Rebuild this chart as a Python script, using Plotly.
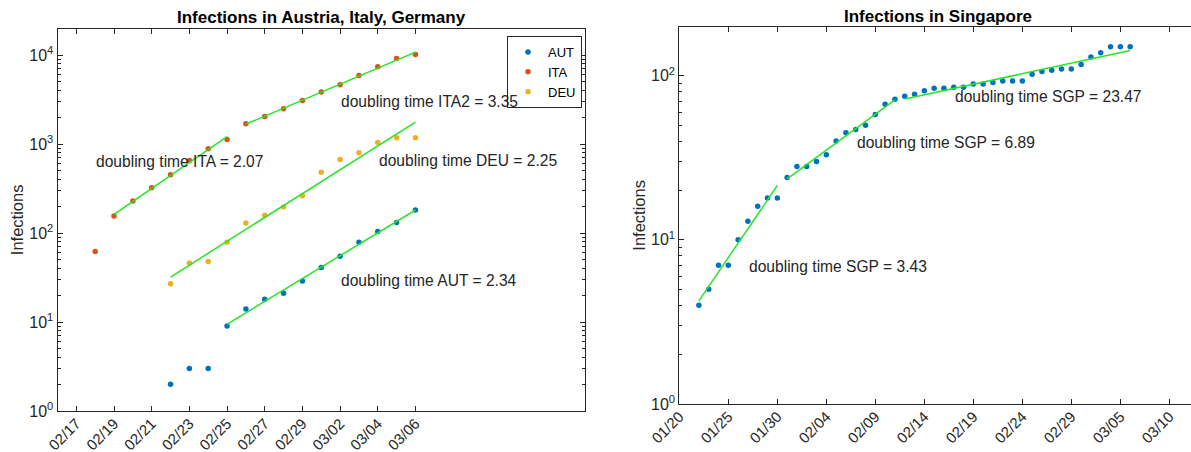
import numpy as np
import pandas as pd
import plotly.graph_objects as go

# ---------------- data (cumulative infections) ----------------
ITA_START = "2020-02-18"
ITA_VALUES = [62, 155, 229, 322, 453, 655, 888, 1128, 1694, 2036, 2502, 3089,
              3858, 4636, 5883, 7375, 9172, 10149]
AUT_START = "2020-02-22"
AUT_VALUES = [2, 3, 3, 9, 14, 18, 21, 29, 41, 55, 79, 104, 131, 182]
DEU_START = "2020-02-22"
DEU_VALUES = [27, 46, 48, 79, 130, 159, 196, 262, 482, 670, 799, 1040, 1176, 1176]
SGP_START = "2020-01-22"
SGP_VALUES = [4, 5, 7, 7, 10, 13, 16, 18, 18,
              24, 28, 28, 30, 33, 40, 45, 47, 50, 58, 67, 72,
              75, 77, 81, 84, 84, 85, 85, 89, 89, 91, 93, 93, 93, 102, 106, 108,
              110, 110, 117, 130, 138, 150, 150, 150]

# fit windows and the doubling times printed on the chart
ITA_FITS = [("2020-02-19", "2020-02-25"), ("2020-02-26", "2020-03-06")]
ITA_DOUBLING = [2.07, 3.35]
DEU_FITS = [("2020-02-22", "2020-03-06")]
DEU_DOUBLING = [2.25]
AUT_FITS = [("2020-02-25", "2020-03-06")]
AUT_DOUBLING = [2.34]
SGP_FITS = [("2020-01-22", "2020-01-30"), ("2020-01-31", "2020-02-11"),
            ("2020-02-12", "2020-03-06")]
SGP_DOUBLING = [3.43, 6.89, 23.47]

# tick labels
LEFT_XTICKVALS = ["2020-02-17", "2020-02-19", "2020-02-21", "2020-02-23", "2020-02-25",
                  "2020-02-27", "2020-02-29", "2020-03-02", "2020-03-04", "2020-03-06"]
LEFT_XTICKTEXT = ["02/17", "02/19", "02/21", "02/23", "02/25",
                  "02/27", "02/29", "03/02", "03/04", "03/06"]
RIGHT_XTICKVALS = ["2020-01-20", "2020-01-25", "2020-01-30", "2020-02-04", "2020-02-09",
                   "2020-02-14", "2020-02-19", "2020-02-24", "2020-02-29", "2020-03-05",
                   "2020-03-10"]
RIGHT_XTICKTEXT = ["01/20", "01/25", "01/30", "02/04", "02/09", "02/14", "02/19",
                   "02/24", "02/29", "03/05", "03/10"]
LEFT_YTICKVALS = [1, 10, 100, 1000, 10000]
LEFT_YTICKTEXT = ["10<sup>0</sup>", "10<sup>1</sup>", "10<sup>2</sup>",
                  "10<sup>3</sup>", "10<sup>4</sup>"]
RIGHT_YTICKVALS = [1, 10, 100]
RIGHT_YTICKTEXT = ["10<sup>0</sup>", "10<sup>1</sup>", "10<sup>2</sup>"]

C_AUT, C_ITA, C_DEU, C_SGP = "#0072BD", "#D95319", "#EDB120", "#0072BD"
C_FIT = "rgb(40,228,40)"
AX = "#262626"
FONT = "Liberation Sans, Arial, Helvetica, sans-serif"


def series(start, values):
    idx = pd.date_range(start, periods=len(values), freq="D")
    return pd.Series(values, index=idx, dtype=float)


def fit(s, a, b):
    seg = s[a:b]
    t = (seg.index - seg.index[0]).days.values.astype(float)
    p = np.polyfit(t, np.log10(seg.values), 1)
    return seg.index, 10 ** np.polyval(p, t)


fig = go.Figure()

ita, aut, deu, sgp = (series(ITA_START, ITA_VALUES), series(AUT_START, AUT_VALUES),
                      series(DEU_START, DEU_VALUES), series(SGP_START, SGP_VALUES))

mk = dict(size=5.5)
fig.add_trace(go.Scatter(x=aut.index, y=aut.values, mode="markers", name="AUT",
                         marker=dict(color=C_AUT, **mk), xaxis="x", yaxis="y"))
fig.add_trace(go.Scatter(x=ita.index, y=ita.values, mode="markers", name="ITA",
                         marker=dict(color=C_ITA, **mk), xaxis="x", yaxis="y"))
fig.add_trace(go.Scatter(x=deu.index, y=deu.values, mode="markers", name="DEU",
                         marker=dict(color=C_DEU, **mk), xaxis="x", yaxis="y"))
fig.add_trace(go.Scatter(x=sgp.index, y=sgp.values, mode="markers", name="SGP",
                         marker=dict(color=C_SGP, **mk), xaxis="x2", yaxis="y2",
                         showlegend=False))

for s, fits, xa, ya in [(ita, ITA_FITS, "x", "y"), (deu, DEU_FITS, "x", "y"),
                        (aut, AUT_FITS, "x", "y"), (sgp, SGP_FITS, "x2", "y2")]:
    for a, b in fits:
        fx, fy = fit(s, a, b)
        fig.add_trace(go.Scatter(x=fx, y=fy, mode="lines", line=dict(color=C_FIT, width=1.5),
                                 showlegend=False, hoverinfo="skip", xaxis=xa, yaxis=ya))

# doubling-time labels (date, value) -> placed left-aligned
labels = [
    (f"doubling time ITA = {ITA_DOUBLING[0]:.2f}", "2020-02-18", 630, "x", "y"),
    (f"doubling time ITA2 = {ITA_DOUBLING[1]:.2f}", "2020-03-02", 3040, "x", "y"),
    (f"doubling time DEU = {DEU_DOUBLING[0]:.2f}", "2020-03-04", 660, "x", "y"),
    (f"doubling time AUT = {AUT_DOUBLING[0]:.2f}", "2020-03-02", 29, "x", "y"),
    (f"doubling time SGP = {SGP_DOUBLING[0]:.2f}", "2020-01-27", 6.9, "x2", "y2"),
    (f"doubling time SGP = {SGP_DOUBLING[1]:.2f}", "2020-02-07", 39, "x2", "y2"),
    (f"doubling time SGP = {SGP_DOUBLING[2]:.2f}", "2020-02-17", 75, "x2", "y2"),
]
annotations = []
for txt, d, v, xa, ya in labels:
    annotations.append(dict(text=txt, x=d, y=np.log10(v), xref=xa, yref=ya,
                            xanchor="left", yanchor="middle", showarrow=False,
                            borderpad=0, font=dict(size=15.6, color=AX, family=FONT)))

W, H = 1191, 452
L_L, L_R, L_T, L_B = 57.5, 585, 29.3, 411
R_L, R_R, R_T, R_B = 679.3, 1191, 27.3, 404

annotations += [
    dict(text="<b>Infections in Austria, Italy, Germany</b>", x=(L_L + L_R) / 2 / W,
         y=1 - 18 / H, xref="paper", yref="paper", showarrow=False,
         xanchor="center", yanchor="middle", font=dict(size=17, color="black", family=FONT)),
    dict(text="<b>Infections in Singapore</b>", x=938 / W, y=1 - 16 / H,
         xref="paper", yref="paper", showarrow=False, xanchor="center", yanchor="middle",
         font=dict(size=17, color="black", family=FONT)),
    dict(text="Infections", x=17 / W, y=1 - ((L_T + L_B) / 2) / H, xref="paper",
         yref="paper", showarrow=False, textangle=-90, xanchor="center", yanchor="middle",
         font=dict(size=16.5, color=AX, family=FONT)),
    dict(text="Infections", x=639 / W, y=1 - ((R_T + R_B) / 2) / H, xref="paper",
         yref="paper", showarrow=False, textangle=-90, xanchor="center", yanchor="middle",
         font=dict(size=16.5, color=AX, family=FONT)),
]

tickfont = dict(size=15, color=AX, family=FONT)
xcommon = dict(type="date", showline=True, linecolor=AX, linewidth=1, ticks="inside",
               ticklen=5, tickcolor=AX, showgrid=False, zeroline=False, tickangle=-45,
               tickfont=tickfont, automargin=False, ticklabelstandoff=-3)
ycommon = dict(type="log", showline=True, linecolor=AX, linewidth=1, ticks="inside",
               ticklen=5, tickcolor=AX, showgrid=False, zeroline=False,
               tickfont=dict(size=16, color=AX, family=FONT), automargin=False)

minor_left = [m * 10 ** e for e in range(0, 5) for m in range(2, 10)]
minor_right = [m * 10 ** e for e in range(0, 3) for m in range(2, 10)]

fig.update_layout(
    width=W, height=H, margin=dict(l=0, r=0, t=0, b=0),
    paper_bgcolor="white", plot_bgcolor="white",
    font=dict(family=FONT, color=AX),
    xaxis=dict(domain=[L_L / W, L_R / W], anchor="y", range=["2020-02-16", "2020-03-15"],
               tickvals=LEFT_XTICKVALS, ticktext=LEFT_XTICKTEXT, mirror="ticks", **xcommon),
    yaxis=dict(domain=[1 - L_B / H, 1 - L_T / H], anchor="x", range=[0, 4.29],
               tickvals=LEFT_YTICKVALS, ticktext=LEFT_YTICKTEXT, mirror="ticks",
               minor=dict(tickvals=minor_left, ticks="inside", ticklen=3, tickcolor=AX),
               **ycommon),
    xaxis2=dict(domain=[R_L / W, 1.0], anchor="y2", range=["2020-01-20", "2020-03-12 05:00"],
                tickvals=RIGHT_XTICKVALS, ticktext=RIGHT_XTICKTEXT, mirror="ticks", **xcommon),
    yaxis2=dict(domain=[1 - R_B / H, 1 - R_T / H], anchor="x2", range=[0, 2.295],
                tickvals=RIGHT_YTICKVALS, ticktext=RIGHT_YTICKTEXT, mirror=False,
                minor=dict(tickvals=minor_right, ticks="inside", ticklen=3, tickcolor=AX),
                **ycommon),
    legend=dict(x=507 / W, y=1 - 36 / H, xanchor="left", yanchor="top",
                bgcolor="white", bordercolor=AX, borderwidth=1,
                font=dict(size=13, color="black", family=FONT), tracegroupgap=0),
    annotations=annotations,
    showlegend=True,
)

fig.write_html("out.html", config={"displayModeBar": False},
               post_script="document.body.style.margin='0';")
